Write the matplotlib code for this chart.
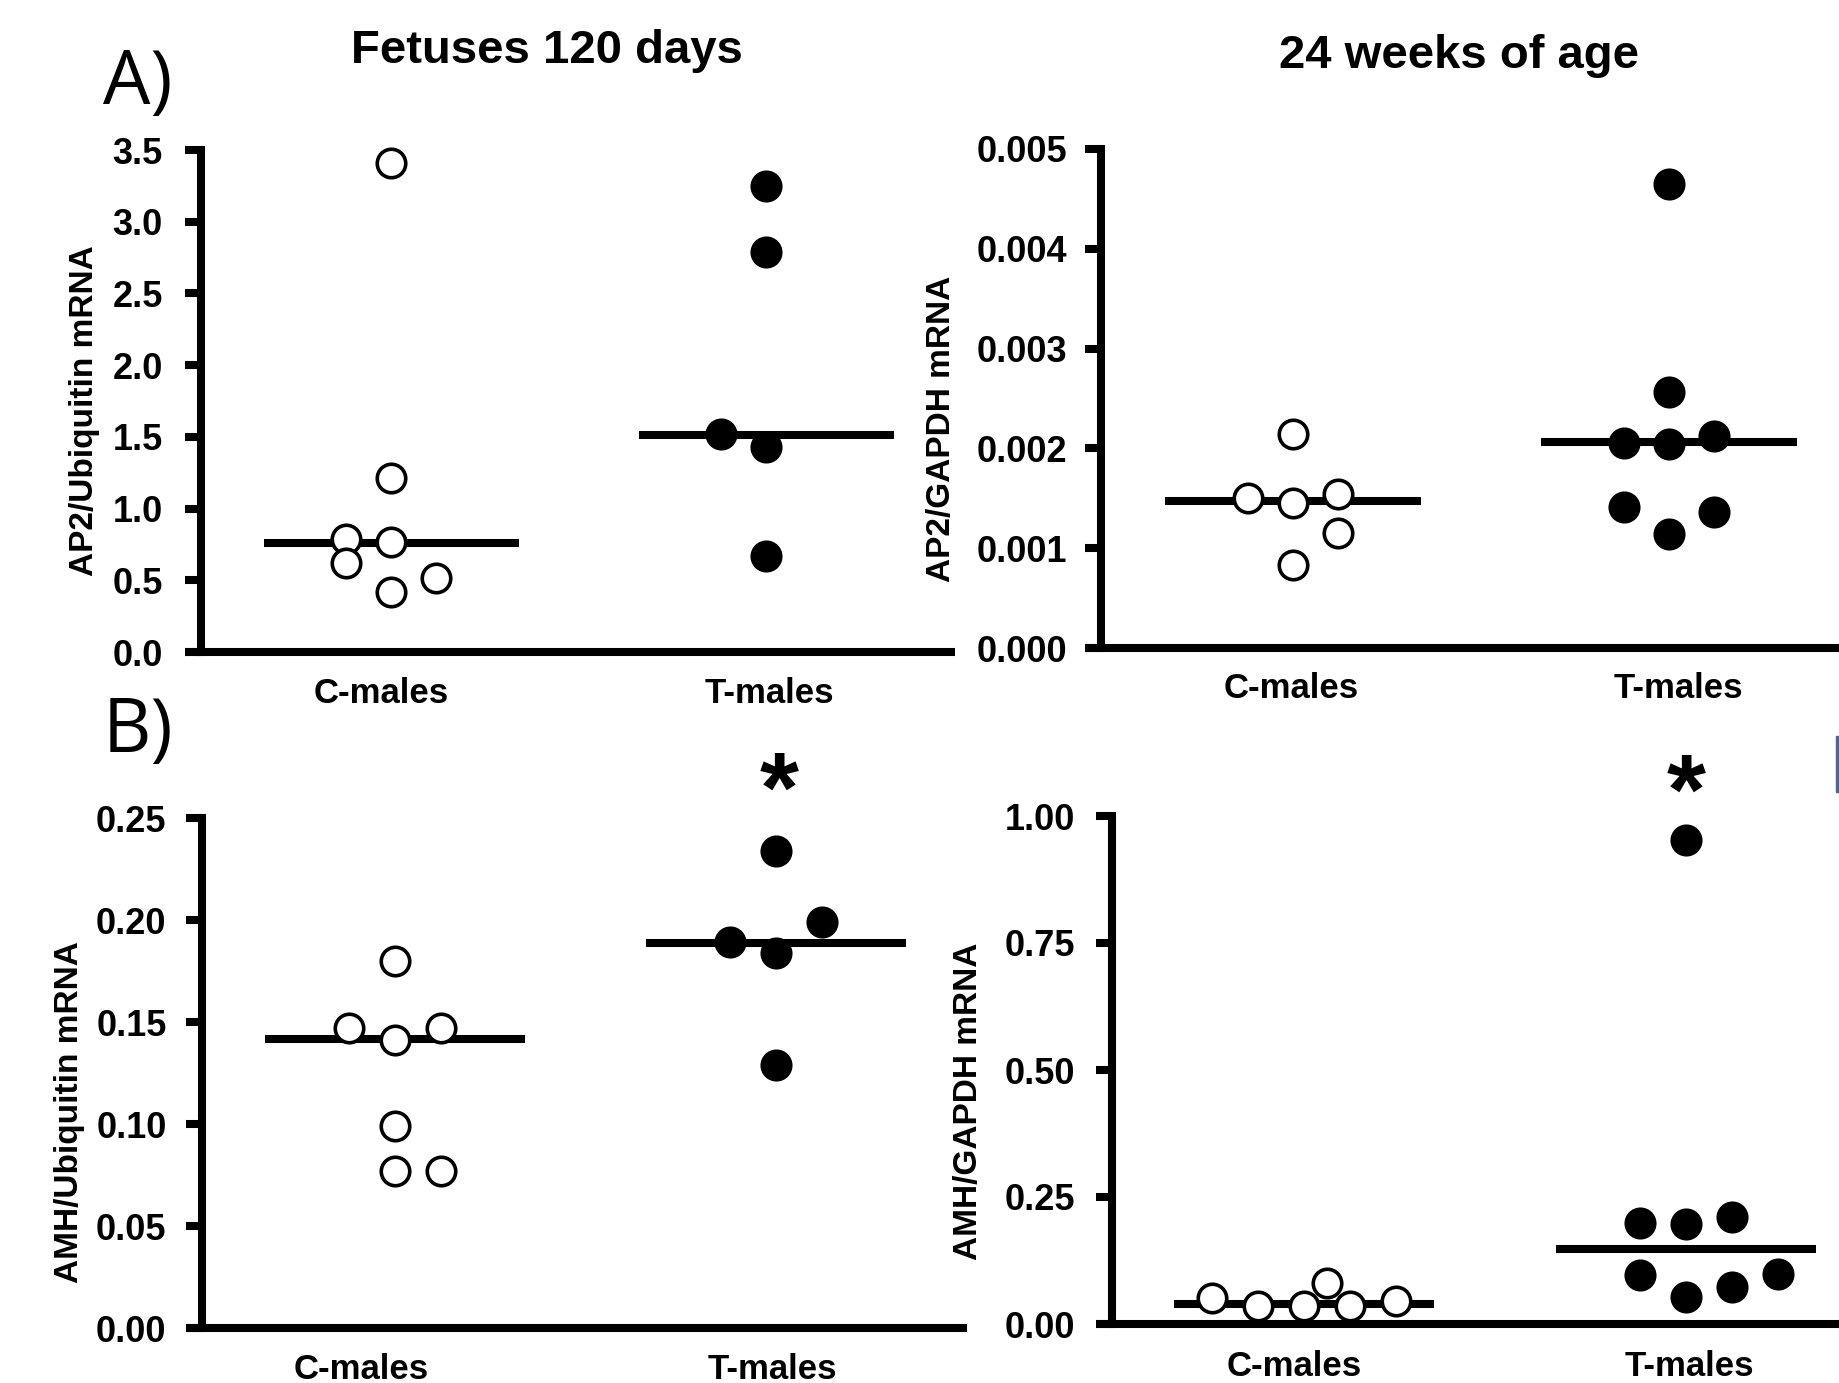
import matplotlib
matplotlib.use("Agg")
import matplotlib.pyplot as plt
from matplotlib.patches import Rectangle
from matplotlib.ticker import FormatStrFormatter

# ---------------- data ----------------
categories = ["C-males", "T-males"]

ap2_fetal_c = [3.41, 1.21, 0.785, 0.77, 0.62, 0.515, 0.42]
ap2_fetal_t = [3.25, 2.79, 1.52, 1.43, 0.666]
ap2_fetal_median = [0.763, 1.513]

ap2_adult_c = [2.14e-3, 1.50e-3, 1.45e-3, 1.54e-3, 1.15e-3, 0.83e-3]
ap2_adult_t = [4.65e-3, 2.57e-3, 2.05e-3, 2.04e-3, 2.12e-3, 1.41e-3, 1.36e-3, 1.14e-3]
ap2_adult_median = [1.475e-3, 2.06e-3]

amh_fetal_c = [0.180, 0.147, 0.141, 0.147, 0.099, 0.0772, 0.0772]
amh_fetal_t = [0.2336, 0.1992, 0.189, 0.184, 0.1288]
amh_fetal_median = [0.1416, 0.1888]

amh_adult_c = [0.051, 0.036, 0.036, 0.0806, 0.036, 0.0446]
amh_adult_t = [0.953, 0.199, 0.196, 0.21, 0.096, 0.053, 0.072, 0.098]
amh_adult_median = [0.040, 0.147]

titles = ["Fetuses 120 days", "24 weeks of age"]
ylabels = ["AP2/Ubiquitin mRNA", "AP2/GAPDH mRNA", "AMH/Ubiquitin mRNA", "AMH/GAPDH mRNA"]

# ---------------- layout (dot columns for scatter spreading) ----------------
tl_cols = ([0, 0, -1, 0, -1, 1, 0], [0, 0, -1, 0, 0])
tr_cols = ([0, -1, 0, 1, 1, 0], [0, 0, -1, 0, 1, -1, 1, 0])
bl_cols = ([0, -1, 0, 1, 0, 0, 1], [0, 1, -1, 0, 0])
br_cols = ([-2, -1, 0, 0.5, 1, 2], [0, -1, 0, 1, -1, 0, 1, 2])
STEP = 0.12

W, H = 1840, 1383
plt.rcParams["font.family"] = ["Liberation Sans", "DejaVu Sans"]
plt.rcParams["font.weight"] = "bold"
fig = plt.figure(figsize=(W / 100, H / 100), dpi=100)

LW = 5.8


def panel(yaxis, cpx, tpx, top, bottom, xend, ymax, step, fmt, cvals, tvals, cols,
          med, pad, xpad, lab_off):
    ppu = tpx - cpx
    x0 = 1 - (cpx - yaxis) / ppu
    ext = 16 / ppu
    xl = x0 - ext
    xr = x0 + (xend - yaxis) / ppu
    ax = fig.add_axes([(yaxis - 16) / W, 1 - bottom / H, (xend - yaxis + 16) / W,
                       (bottom - top) / H])
    ax.set_xlim(xl, xr)
    ax.set_ylim(0, ymax)
    ax.patch.set_alpha(0)
    for s in ("top", "right"):
        ax.spines[s].set_visible(False)
    ax.spines["left"].set_position(("data", x0))
    ax.spines["left"].set_bounds(0, ymax)
    ax.spines["left"].set_linewidth(LW)
    ax.spines["left"].set_capstyle("projecting")
    ax.spines["bottom"].set_linewidth(LW)
    ax.spines["bottom"].set_capstyle("butt")
    n = int(round(ymax / step))
    ax.set_yticks([i * step for i in range(n + 1)])
    ax.yaxis.set_major_formatter(FormatStrFormatter(fmt))
    ax.tick_params(axis="y", direction="out", length=11.5, width=LW, pad=pad,
                   labelsize=26)
    ax.set_xticks([1 + lab_off[0], 2 + lab_off[1]])
    ax.set_xticklabels(categories, fontsize=25, fontweight="bold")
    ax.tick_params(axis="x", length=0, pad=xpad)

    for i, (vals, cl) in enumerate(((cvals, cols[0]), (tvals, cols[1]))):
        pos = i + 1
        xs = [pos + c * STEP for c in cl]
        face = "white" if i == 0 else "black"
        ax.plot(xs, vals, linestyle="none", marker="o", ms=20.5, mfc=face, mec="black",
                mew=2.6, zorder=3, clip_on=False)
        ax.hlines(med[i], pos - 0.34, pos + 0.34, colors="black", linewidth=LW, zorder=2)
    return ax


panel(201, 391, 766, 150, 652, 955, 3.5, 0.5, "%.1f", ap2_fetal_c, ap2_fetal_t,
      tl_cols, ap2_fetal_median, 16, 18, (-0.025, 0.01))
panel(1101, 1293, 1669, 149, 648, 1860, 0.005, 0.001, "%.3f", ap2_adult_c, ap2_adult_t,
      tr_cols, ap2_adult_median, 13, 17, (-0.005, 0.025))
panel(202, 395, 776, 818, 1328, 967, 0.25, 0.05, "%.2f", amh_fetal_c, amh_fetal_t,
      bl_cols, amh_fetal_median, 14, 18, (-0.09, -0.01))
panel(1112, 1304, 1686, 816, 1324, 1860, 1.0, 0.25, "%.2f", amh_adult_c, amh_adult_t,
      br_cols, amh_adult_median, 15, 19, (-0.025, 0.01))

# titles
fig.text(547 / W, 1 - 51 / H, titles[0], ha="center", va="center", fontsize=34,
         fontweight="bold")
fig.text(1459 / W, 1 - 56 / H, titles[1], ha="center", va="center", fontsize=34,
         fontweight="bold")

# y labels
for (x, y), lab in zip([(85, 411), (942, 429), (70, 1112), (969, 1101)], ylabels):
    fig.text(x / W, 1 - y / H, lab, rotation=90, ha="center", va="center",
             fontsize=24, fontweight="bold")

# panel letters
fig.text(103 / W, 1 - 85 / H, "A)", ha="left", va="center", fontsize=54,
         fontweight="normal", family=["Open Sans", "DejaVu Sans"])
fig.text(103 / W, 1 - 733 / H, "B)", ha="left", va="center", fontsize=54,
         fontweight="normal", family=["Open Sans", "DejaVu Sans"])

# significance asterisks
for x, y in [(779, 822), (1686, 824)]:
    fig.text(x / W, 1 - y / H, "*", ha="center", va="baseline", fontsize=72,
             fontweight="bold")

# cropped edge mark
fig.patches.append(Rectangle((1836 / W, 1 - 792 / H), 4 / W, 56 / H,
                             transform=fig.transFigure, color="#46679a"))

fig.savefig("out.png", dpi=100)
